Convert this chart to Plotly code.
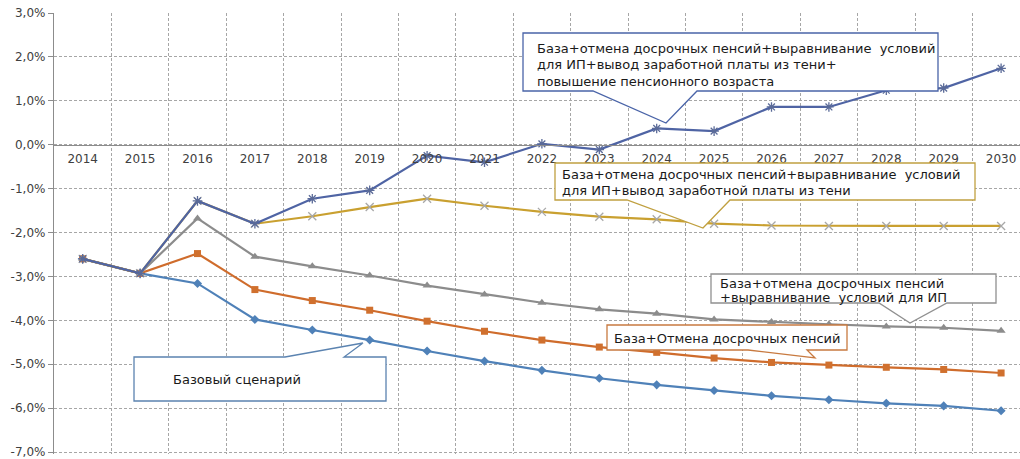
import plotly.graph_objects as go

years = [str(y) for y in range(2014, 2031)]

base = [-2.60, -2.93, -3.16, -3.98, -4.22, -4.45, -4.70, -4.93, -5.14, -5.32, -5.47, -5.60, -5.72, -5.81, -5.89, -5.95, -6.06]
early = [-2.60, -2.93, -2.48, -3.30, -3.55, -3.77, -4.02, -4.25, -4.45, -4.61, -4.73, -4.86, -4.96, -5.02, -5.07, -5.12, -5.20]
ip = [-2.60, -2.93, -1.68, -2.55, -2.77, -2.98, -3.21, -3.41, -3.60, -3.75, -3.85, -3.98, -4.04, -4.09, -4.14, -4.17, -4.24]
shadow = [-2.60, -2.93, -1.28, -1.80, -1.63, -1.42, -1.23, -1.39, -1.53, -1.64, -1.70, -1.80, -1.84, -1.85, -1.85, -1.85, -1.85]
age = [-2.60, -2.93, -1.28, -1.80, -1.23, -1.04, -0.25, -0.40, 0.02, -0.11, 0.37, 0.31, 0.86, 0.86, 1.24, 1.29, 1.74]

ytick_vals = [3, 2, 1, 0, -1, -2, -3, -4, -5, -6, -7]
ytick_text = ["3,0%", "2,0%", "1,0%", "0,0%", "-1,0%", "-2,0%", "-3,0%", "-4,0%", "-5,0%", "-6,0%", "-7,0%"]

W, H = 1020, 459
L, R, T, B = 54, 0, 13, 5
PW, PH = W - L - R, H - T - B


def px(x):
    return (x - L) / PW


def py(y):
    return (H - B - y) / PH


fig = go.Figure()

series = [
    ("Базовый сценарий", base, "#4f81b8", dict(symbol="diamond", size=7, color="#4f81b8")),
    ("База+Отмена досрочных пенсий", early, "#cf6c2c", dict(symbol="square", size=7, color="#d0702e")),
    ("База+отмена досрочных пенсий+выравнивание условий для ИП", ip, "#8c8c8c", dict(symbol="triangle-up", size=8, color="#8c8c8c")),
    ("...+вывод заработной платы из тени", shadow, "#c9a030", dict(symbol="x-thin-open", size=8, color="#a8a8a8", line=dict(width=1.3, color="#a8a8a8"))),
    ("...+повышение пенсионного возраста", age, "#4f64a4", dict(symbol="asterisk-open", size=8, color="#5a6a98", line=dict(width=1.3, color="#5a6a98"))),
]
for name, vals, col, mk in series:
    fig.add_trace(go.Scatter(x=years, y=vals, name=name, mode="lines+markers",
                             line=dict(color=col, width=2.2), marker=mk, showlegend=False))

# callouts: (border colour, path points in pixels, text lines [(x, y, text)])
callouts = [
    ("#4a64a8",
     [(523, 33), (938, 33), (938, 91), (697, 91), (666, 123), (593, 91), (523, 91)],
     [(535, 48, "База+отмена досрочных пенсий+выравнивание  условий"),
      (535, 65, "для ИП+вывод заработной платы из тени+"),
      (535, 82, "повышение пенсионного возраста")]),
    ("#c0a040",
     [(555, 163), (975, 163), (975, 200), (730, 200), (703, 228), (627, 200), (555, 200)],
     [(560, 174, "База+отмена досрочных пенсий+выравнивание  условий"),
      (560, 190, "для ИП+вывод заработной платы из тени")]),
    ("#909090",
     [(711, 274), (996, 274), (996, 303), (947, 303), (910, 323), (879, 303), (711, 303)],
     [(718, 283, "База+отмена досрочных пенсий"),
      (718, 297, "+выравнивание  условий для ИП")]),
    ("#c87a40",
     [(607, 325), (847, 325), (847, 350), (807, 350), (815, 358), (748, 350), (607, 350)],
     [(612, 338, "База+Отмена досрочных пенсий")]),
    ("#5b83b0",
     [(134, 357), (285, 357), (363, 343), (344, 357), (386, 357), (386, 401), (134, 401)],
     [(171, 379, "Базовый сценарий")]),
]

for col, pts, lines in callouts:
    path = "M " + " L ".join(f"{px(x):.5f},{py(y):.5f}" for x, y in pts) + " Z"
    fig.add_shape(type="path", path=path, xref="paper", yref="paper",
                  line=dict(color=col, width=1.3), fillcolor="white", layer="above")
    for x, y, t in lines:
        fig.add_annotation(x=px(x), y=py(y), xref="paper", yref="paper", text=t,
                           showarrow=False, xanchor="left", yanchor="middle",
                           font=dict(family="DejaVu Sans", size=13, color="#1a1a1a"))

y0 = -7 - 2.0 / 44  # tiny pad below -7 so its grid line is drawn

fig.update_layout(
    width=W, height=H,
    margin=dict(l=L, r=R, t=T, b=B, pad=0, autoexpand=False),
    paper_bgcolor="white", plot_bgcolor="white",
    font=dict(family="DejaVu Sans", size=12, color="#404040"),
    xaxis=dict(
        type="category", range=[-0.5, (W - L) / 57.4 - 0.5],
        tickson="boundaries", ticks="", showgrid=True, automargin=False,
        gridcolor="#a6a6a6", griddash="3px,2px", gridwidth=1,
        anchor="free", position=(0 - y0) / (3 - y0), ticklabelstandoff=3,
        showline=True, linecolor="#8c8c8c", linewidth=1.3,
        tickfont=dict(family="DejaVu Sans", size=12, color="#404040"),
        zeroline=False, fixedrange=True,
    ),
    yaxis=dict(
        range=[y0, 3], tickvals=ytick_vals, ticktext=ytick_text, automargin=False,
        ticks="outside", ticklen=5, tickcolor="#8c8c8c", ticklabeloverflow="allow",
        showgrid=True, gridcolor="#a6a6a6", griddash="3px,2px", gridwidth=1,
        showline=True, linecolor="#8c8c8c", linewidth=1.3,
        zeroline=False,
        tickfont=dict(family="DejaVu Sans", size=12, color="#404040"),
    ),
)

fig.write_html("out.html", config={"displayModeBar": False},
               post_script="document.body.style.margin='0';document.body.style.overflow='hidden';")
